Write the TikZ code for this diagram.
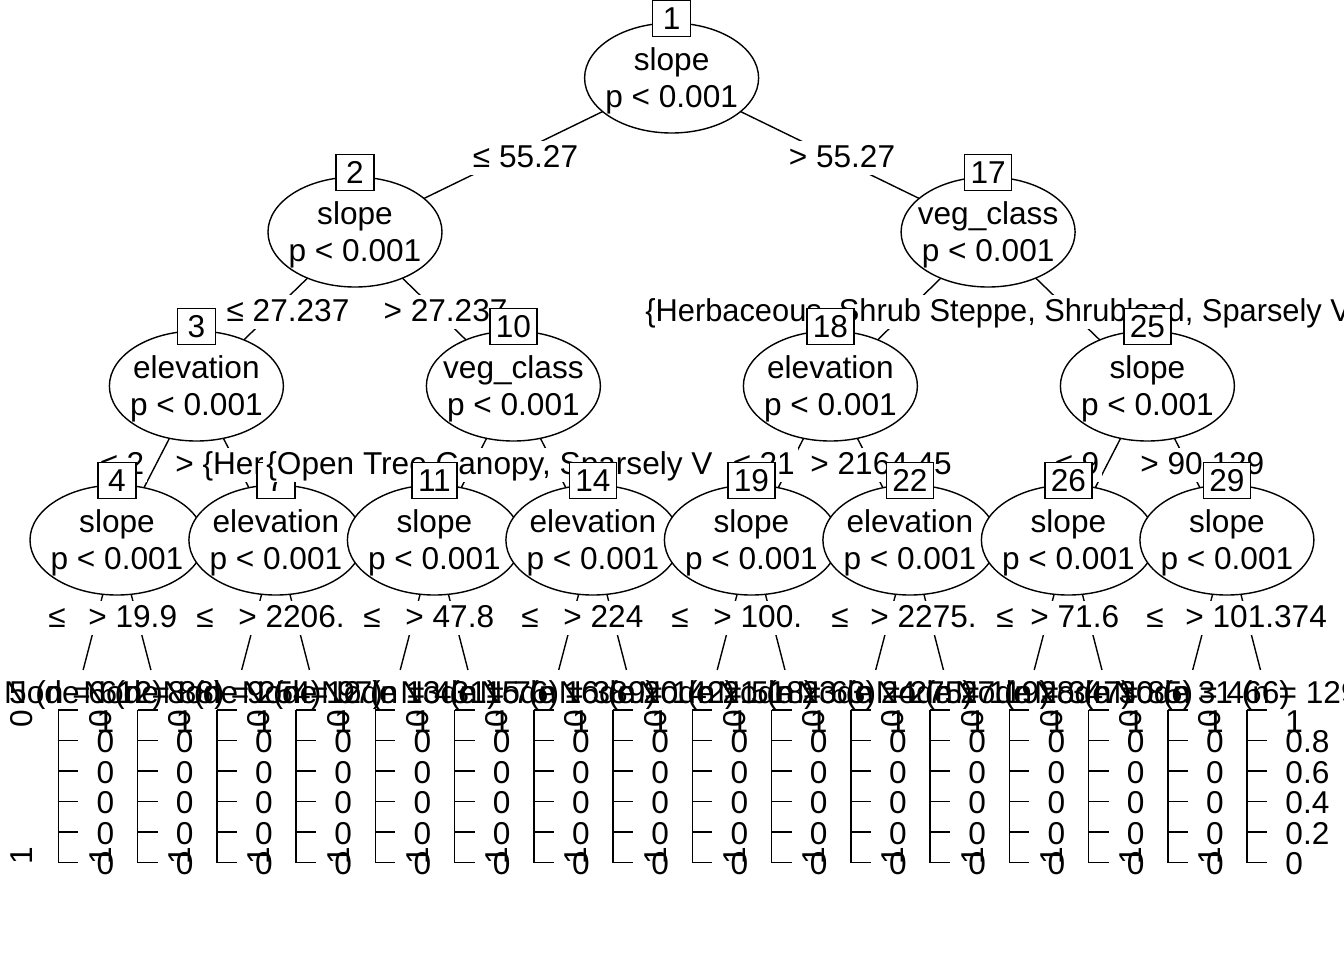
\documentclass[tikz,border=0pt]{standalone}
\usepackage{fontspec}
\setmainfont{Liberation Sans}
\usetikzlibrary{shapes.geometric}
\pgfdeclarelayer{bg}
\pgfsetlayers{bg,main}
\newcommand{\tfont}{\fontsize{15.8pt}{18.5pt}\selectfont}
\tikzset{
  inner/.style={ellipse, draw, fill=white, line width=0.7pt, minimum width=87pt, minimum height=55pt, inner sep=0pt},
  ntext/.style={align=center, inner sep=0pt, yshift=-1.5pt, font=\tfont},
  idbox/.style={draw, fill=white, line width=0.7pt, minimum width=19pt, minimum height=18pt, inner xsep=3pt, inner ysep=0pt, text height=11.5pt, text depth=0pt, font=\tfont},
  elabel/.style={fill=white, inner xsep=1.5pt, inner ysep=0pt, text height=13pt, text depth=4pt, font=\tfont},
  axlabel/.style={inner sep=0pt, font=\tfont},
  edge/.style={line width=0.7pt},
}
\begin{document}
\begin{tikzpicture}[x=0.5pt, y=-0.5pt]
\useasboundingbox (0,0) rectangle (1344,960);
% inner nodes
\node[inner] (n1) at (671.6,78) {};
\node[ntext] (s1) at (n1) {slope\\p < 0.001};
\node[inner] (n2) at (355,232) {};
\node[ntext] (s2) at (n2) {slope\\p < 0.001};
\node[inner] (n17) at (988.1,232) {};
\node[ntext] (s17) at (n17) {veg\_class\\p < 0.001};
\node[inner] (n3) at (196.4,386) {};
\node[ntext] (s3) at (n3) {elevation\\p < 0.001};
\node[inner] (n10) at (513.4,386) {};
\node[ntext] (s10) at (n10) {veg\_class\\p < 0.001};
\node[inner] (n18) at (830.4,386) {};
\node[ntext] (s18) at (n18) {elevation\\p < 0.001};
\node[inner] (n25) at (1147.4,386) {};
\node[ntext] (s25) at (n25) {slope\\p < 0.001};
\node[inner] (n4) at (117,540) {};
\node[ntext] (s4) at (n4) {slope\\p < 0.001};
\node[inner] (n7) at (275.9,540) {};
\node[ntext] (s7) at (n7) {elevation\\p < 0.001};
\node[inner] (n11) at (434.4,540) {};
\node[ntext] (s11) at (n11) {slope\\p < 0.001};
\node[inner] (n14) at (592.9,540) {};
\node[ntext] (s14) at (n14) {elevation\\p < 0.001};
\node[inner] (n19) at (751.4,540) {};
\node[ntext] (s19) at (n19) {slope\\p < 0.001};
\node[inner] (n22) at (909.9,540) {};
\node[ntext] (s22) at (n22) {elevation\\p < 0.001};
\node[inner] (n26) at (1068.4,540) {};
\node[ntext] (s26) at (n26) {slope\\p < 0.001};
\node[inner] (n29) at (1226.9,540) {};
\node[ntext] (s29) at (n29) {slope\\p < 0.001};
% split labels and node numbers
\node[idbox] (b1) at ([yshift=2pt]n1.north) {1};
\node[elabel, anchor=base] (e2) at (525.5,167) {≤ 55.27};
\node[idbox] (b2) at ([yshift=2pt]n2.north) {2};
\node[elabel, anchor=base] (e3) at (288,321) {≤ 27.237};
\node[idbox] (b3) at ([yshift=2pt]n3.north) {3};
\node[elabel, anchor=base west] (e4) at (97,474) {≤ 2\hspace{6pt}};
\node[idbox] (b4) at ([yshift=2pt]n4.north) {4};
\node[elabel, anchor=base] (e5) at (57,627) {≤};
\node[elabel, anchor=base west] (e6) at (85,627) {> 19.9};
\node[elabel, anchor=base west] (e7) at (172,474) {> \{Herb};
\node[idbox] (b7) at ([yshift=2pt]n7.north) {7};
\node[elabel, anchor=base] (e8) at (205,627) {≤};
\node[elabel, anchor=base west] (e9) at (235,627) {> 2206.};
\node[elabel, anchor=base] (e10) at (445.5,321) {> 27.237};
\node[idbox] (b10) at ([yshift=2pt]n10.north) {10};
\node[elabel, anchor=base west] (e11) at (263,474) {\{Open Tree Canopy, Sparsely V};
\node[idbox] (b11) at ([yshift=2pt]n11.north) {11};
\node[elabel, anchor=base] (e12) at (372,627) {≤};
\node[elabel, anchor=base west] (e13) at (402,627) {> 47.8};
\node[idbox] (b14) at ([yshift=2pt]n14.north) {14};
\node[elabel, anchor=base] (e15) at (530,627) {≤};
\node[elabel, anchor=base west] (e16) at (560,627) {> 224};
\node[elabel, anchor=base] (e17) at (842,167) {> 55.27};
\node[idbox] (b17) at ([yshift=2pt]n17.north) {17};
\node[elabel, anchor=base west] (e18) at (642,321) {\scalebox{0.975}[1]{\{Herbaceous, Shrub Steppe, Shrubland, Sparsely V}};
\node[idbox] (b18) at ([yshift=2pt]n18.north) {18};
\node[elabel, anchor=base west] (e19) at (730,474) {≤ 21\hspace{6pt}};
\node[idbox] (b19) at ([yshift=2pt]n19.north) {19};
\node[elabel, anchor=base] (e20) at (680,627) {≤};
\node[elabel, anchor=base west] (e21) at (710,627) {> 100.};
\node[elabel, anchor=base west] (e22) at (807,474) {> 2164.45};
\node[idbox] (b22) at ([yshift=2pt]n22.north) {22};
\node[elabel, anchor=base] (e23) at (840,627) {≤};
\node[elabel, anchor=base west] (e24) at (867,627) {> 2275.};
\node[idbox] (b25) at ([yshift=2pt]n25.north) {25};
\node[elabel, anchor=base west] (e26) at (1052,474) {≤ 9\hspace{6pt}};
\node[idbox] (b26) at ([yshift=2pt]n26.north) {26};
\node[elabel, anchor=base] (e27) at (1005,627) {≤};
\node[elabel, anchor=base west] (e28) at (1027,627) {> 71.6};
\node[elabel, anchor=base west] (e29) at (1137,474) {> 90.129};
\node[idbox] (b29) at ([yshift=2pt]n29.north) {29};
\node[elabel, anchor=base] (e30) at (1155,627) {≤};
\node[elabel, anchor=base west] (e31) at (1182,627) {> 101.374};
% terminal panels
\foreach \j/\k/\n in {0/5/612,1/6/88,2/8/254,3/9/97,4/12/431,5/13/76,6/15/389,7/16/142,8/20/518,9/21/63,10/23/275,11/24/119,12/27/347,13/28/85,14/30/466,15/31/129} {
  \pgfmathsetmacro{\c}{77.4+79.25*\j}
  \pgfmathsetmacro{\a}{\c-19.1}
  \coordinate (t\k) at (\c,692);
  \node[axlabel, anchor=base west] (h\k) at (\c-153,703) {Node \k{} (n = \n)};
  \fill[white] (\a-24,709) rectangle (\a+58,884);
  \draw[edge] (\a,710) -- (\a,862.7);
  \foreach \i/\v in {0/1,1/0.8,2/0.6,3/0.4,4/0.2,5/0} {
    \pgfmathsetmacro{\b}{722+30.54*\i+10*(\i==0)}
    \draw[edge] (\a,710+30.54*\i) -- (\a+20,710+30.54*\i);
    \node[axlabel, anchor=base west] (y\k-\i) at (\a+38,\b) {\v};
  }
  \node[axlabel, rotate=90] (p\k) at (\a-37,718.5) {0};
  \node[axlabel, rotate=90] (q\k) at (\a-37,856) {1};
}
% connectors
\begin{pgfonlayer}{bg}
\draw[edge] (n1.center) -- (n2.center);
\draw[edge] (n1.center) -- (n17.center);
\draw[edge] (n2.center) -- (n3.center);
\draw[edge] (n2.center) -- (n10.center);
\draw[edge] (n17.center) -- (n18.center);
\draw[edge] (n17.center) -- (n25.center);
\draw[edge] (n3.center) -- (n4.center);
\draw[edge] (n3.center) -- (n7.center);
\draw[edge] (n10.center) -- (n11.center);
\draw[edge] (n10.center) -- (n14.center);
\draw[edge] (n18.center) -- (n19.center);
\draw[edge] (n18.center) -- (n22.center);
\draw[edge] (n25.center) -- (n26.center);
\draw[edge] (n25.center) -- (n29.center);
\foreach \p/\l/\r in {4/5/6,7/8/9,11/12/13,14/15/16,19/20/21,22/23/24,26/27/28,29/30/31} {
  \draw[edge, shorten >=11.4pt] (n\p.center) -- (t\l);
  \draw[edge, shorten >=11.4pt] (n\p.center) -- (t\r);
}
\end{pgfonlayer}
\end{tikzpicture}
\end{document}
